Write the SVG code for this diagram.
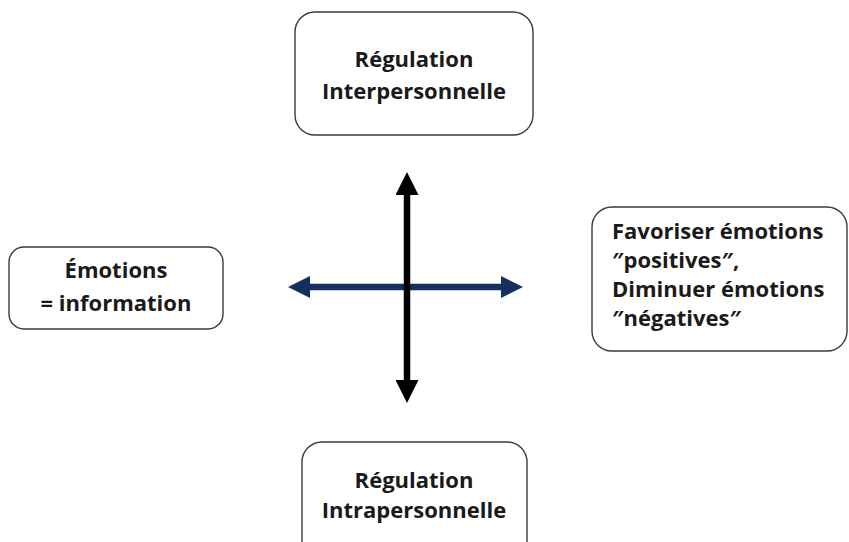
<svg xmlns="http://www.w3.org/2000/svg" width="849" height="542" viewBox="0 0 849 542">
  <defs>
    <style>
      .box { fill: #ffffff; stroke: #3a3a3a; stroke-width: 1.4; }
      .lbl { font-family: "Open Sans", "Noto Sans", "Liberation Sans", sans-serif; font-weight: 700; font-size: 22px; fill: #1a1a1a; font-variant-ligatures: none; }
      .mid { text-anchor: middle; }
      .axis-v { stroke: #000000; stroke-width: 6.5; fill: none; }
      .axis-h { stroke: #13305f; stroke-width: 6.5; fill: none; }
    </style>
    <marker id="headBlack" markerUnits="userSpaceOnUse" markerWidth="23" markerHeight="23" refX="0" refY="11.5" orient="auto-start-reverse" viewBox="0 0 23 23">
      <path d="M0,0 L23,11.5 L0,23 Z" fill="#000000"/>
    </marker>
    <marker id="headNavy" markerUnits="userSpaceOnUse" markerWidth="22" markerHeight="22" refX="0" refY="11" orient="auto-start-reverse" viewBox="0 0 22 22">
      <path d="M0,0 L22,11 L0,22 Z" fill="#13305f"/>
    </marker>
  </defs>
  <rect width="849" height="542" fill="#ffffff"/>

  <g id="connectors">
    <line class="axis-h" x1="310" y1="287" x2="501" y2="287" marker-start="url(#headNavy)" marker-end="url(#headNavy)"/>
    <line class="axis-v" x1="407" y1="195" x2="407" y2="380" marker-start="url(#headBlack)" marker-end="url(#headBlack)"/>
  </g>

  <g id="node-interpersonnelle">
    <rect class="box" x="295" y="12" width="238" height="123" rx="20" ry="20"/>
    <text class="lbl mid" x="414" y="67">Régulation</text>
    <text class="lbl mid" x="414" y="99">Interpersonnelle</text>
  </g>

  <g id="node-information">
    <rect class="box" x="9" y="247" width="214" height="82" rx="15" ry="15"/>
    <text class="lbl mid" x="116" y="278">Émotions</text>
    <text class="lbl mid" x="116" y="311">= information</text>
  </g>

  <g id="node-favoriser">
    <rect class="box" x="592" y="207" width="255" height="144" rx="20" ry="20"/>
    <text class="lbl" x="612" y="239">Favoriser émotions</text>
    <text class="lbl" x="612" y="268">″positives″,</text>
    <text class="lbl" x="612" y="297">Diminuer émotions</text>
    <text class="lbl" x="612" y="326">″négatives″</text>
  </g>

  <g id="node-intrapersonnelle">
    <rect class="box" x="302" y="442" width="225" height="130" rx="20" ry="20"/>
    <text class="lbl mid" x="414" y="488">Régulation</text>
    <text class="lbl mid" x="414" y="518">Intrapersonnelle</text>
  </g>
</svg>
